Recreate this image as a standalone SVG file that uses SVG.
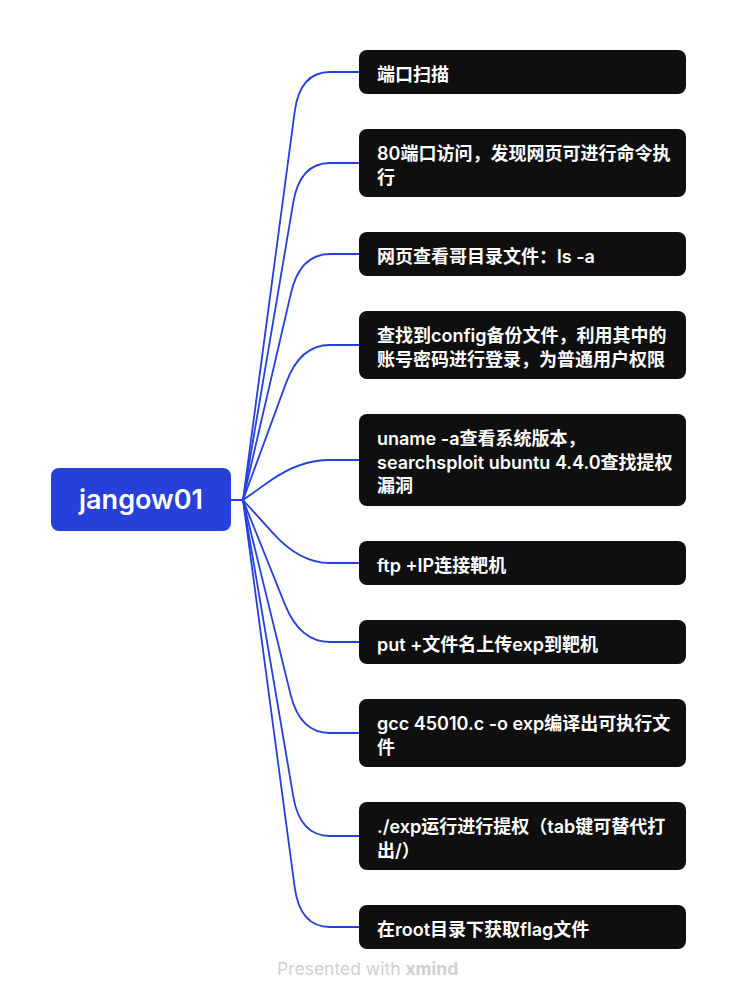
<svg xmlns="http://www.w3.org/2000/svg" width="737" height="1000" viewBox="0 0 737 1000">
<style>
.bg{fill:#ffffff}
.root rect{fill:#2541d9}
.root text{fill:#ffffff;font-family:Inter,"Noto Sans CJK SC",sans-serif;font-size:27px;font-weight:600;text-anchor:middle}
.node rect{fill:#0f0f0f}
.node text{fill:#ffffff;font-family:Inter,"Noto Sans CJK SC",sans-serif;font-size:18px;font-weight:600}
.conn path{fill:none;stroke:#2541d9;stroke-width:1.8;stroke-linecap:round;stroke-linejoin:round}
.footer{font-family:Inter,"Noto Sans",sans-serif;font-size:17.5px;fill:#d0d0d0}
</style>
<rect class="bg" x="0" y="0" width="737" height="1000"/>
<g id="connectors" class="conn">
<path d="M231 500 H243"/>
<path d="M243 500 L294.7 111.6 Q300 72 330 72 H359"/>
<path d="M243 500 L293.3 202.4 Q300 163 330 163 H359"/>
<path d="M243 500 L291 293 Q300 254 330 254 H359"/>
<path d="M243 500 L286.2 382.6 Q300 345 330 345 H359"/>
<path d="M243 500 L271.3 480.1 Q300 460 330 460 H359"/>
<path d="M243 500 L273.2 533.3 Q300 563 330 563 H359"/>
<path d="M243 500 L285.1 604.9 Q300 642 330 642 H359"/>
<path d="M243 500 L290.5 694.2 Q300 733 330 733 H359"/>
<path d="M243 500 L293.3 796.6 Q300 836 330 836 H359"/>
<path d="M243 500 L294.7 887.4 Q300 927 330 927 H359"/>
</g>
<g id="root" class="root">
<rect x="51" y="468" width="180" height="63" rx="8"/>
<text x="141" y="509">jangow01</text>
</g>
<g id="n1" class="node">
<rect x="359" y="50" width="327" height="44" rx="8"/>
<text x="377" y="81">端口扫描</text>
</g>
<g id="n2" class="node">
<rect x="359" y="129" width="327" height="68" rx="8"/>
<text x="377" y="160">80端口访问，发现网页可进行命令执<tspan x="377" dy="23.5">行</tspan></text>
</g>
<g id="n3" class="node">
<rect x="359" y="232" width="327" height="44" rx="8"/>
<text x="377" y="263">网页查看哥目录文件：ls -a</text>
</g>
<g id="n4" class="node">
<rect x="359" y="311" width="327" height="68" rx="8"/>
<text x="377" y="342">查找到config备份文件，利用其中的<tspan x="377" dy="23.5">账号密码进行登录，为普通用户权限</tspan></text>
</g>
<g id="n5" class="node">
<rect x="359" y="414" width="327" height="92" rx="8"/>
<text x="377" y="445">uname -a查看系统版本，<tspan x="377" dy="23.5">searchsploit ubuntu 4.4.0查找提权</tspan><tspan x="377" dy="23.5">漏洞</tspan></text>
</g>
<g id="n6" class="node">
<rect x="359" y="541" width="327" height="44" rx="8"/>
<text x="377" y="572">ftp +IP连接靶机</text>
</g>
<g id="n7" class="node">
<rect x="359" y="620" width="327" height="44" rx="8"/>
<text x="377" y="651">put +文件名上传exp到靶机</text>
</g>
<g id="n8" class="node">
<rect x="359" y="699" width="327" height="68" rx="8"/>
<text x="377" y="730">gcc 45010.c -o exp编译出可执行文<tspan x="377" dy="23.5">件</tspan></text>
</g>
<g id="n9" class="node">
<rect x="359" y="802" width="327" height="68" rx="8"/>
<text x="377" y="833">./exp运行进行提权（tab键可替代打<tspan x="377" dy="23.5">出/）</tspan></text>
</g>
<g id="n10" class="node">
<rect x="359" y="905" width="327" height="44" rx="8"/>
<text x="377" y="936">在root目录下获取flag文件</text>
</g>
<text class="footer" x="277" y="975">Presented with <tspan font-weight="700">xmind</tspan></text>
</svg>
